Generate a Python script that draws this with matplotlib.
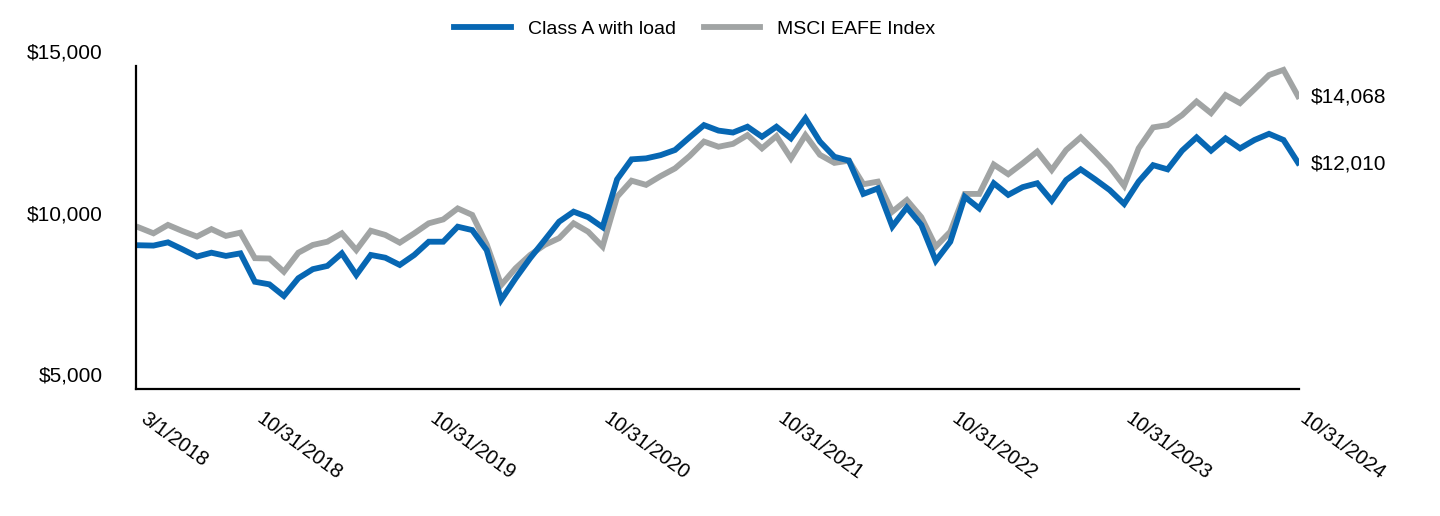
import numpy as np
import matplotlib.pyplot as plt
from matplotlib.transforms import ScaledTranslation

plt.rcParams['font.family'] = ['Liberation Sans', 'DejaVu Sans']

# -----------------------------------------------------------------------------
# Dados (valor de um investimento de $10.000, mensal, 3/1/2018 a 10/31/2024)
# -----------------------------------------------------------------------------
classe_a = [
    9450, 9440, 9540, 9325, 9100, 9220, 9120, 9200, 8320, 8240,
    7880, 8430, 8710, 8810, 9200, 8530, 9150, 9065, 8840, 9150,
    9560, 9560, 10025, 9920, 9300, 7760, 8430, 9050, 9610, 10180,
    10490, 10320, 10010, 11490, 12110, 12140, 12240, 12400, 12790, 13170,
    13000, 12940, 13120, 12810, 13120, 12760, 13380, 12660, 12190, 12070,
    11040, 11210, 10030, 10620, 10080, 8970, 9560, 10950, 10590, 11370,
    11010, 11250, 11370, 10830, 11470, 11800, 11490, 11160, 10730, 11420,
    11930, 11800, 12380, 12790, 12380, 12760, 12450, 12710, 12900, 12710,
    12010,
]
msci_eafe = [
    10000, 9820, 10080, 9890, 9720, 9950, 9740, 9840, 9050, 9040,
    8630, 9220, 9460, 9560, 9820, 9300, 9900, 9770, 9530, 9820,
    10130, 10250, 10590, 10390, 9480, 8220, 8740, 9150, 9460, 9670,
    10130, 9870, 9410, 10950, 11450, 11320, 11590, 11830, 12210, 12660,
    12500, 12590, 12860, 12450, 12830, 12140, 12860, 12250, 12000, 12070,
    11340, 11420, 10490, 10850, 10320, 9410, 9870, 11040, 11040, 11950,
    11650, 11990, 12350, 11780, 12400, 12790, 12350, 11880, 11290, 12450,
    13100, 13170, 13480, 13900, 13540, 14100, 13850, 14280, 14720, 14880,
    14068,
]

rotulos_x = ["3/1/2018", "10/31/2018", "10/31/2019", "10/31/2020",
             "10/31/2021", "10/31/2022", "10/31/2023", "10/31/2024"]
indices_x = [0, 8, 20, 32, 44, 56, 68, 80]

valores_y = [5000, 10000, 15000]
rotulos_y = ["$5,000", "$10,000", "$15,000"]

azul = "#0767b3"
cinza = "#a1a4a4"

# -----------------------------------------------------------------------------
# Figura
# -----------------------------------------------------------------------------
fig = plt.figure(figsize=(14.4, 5.16), dpi=100)
ax = fig.add_axes([136 / 1440, 127 / 516, 1163 / 1440, 323 / 516])

x = np.arange(len(classe_a))
ax.plot(x, msci_eafe, color=cinza, lw=4.2, label="MSCI EAFE Index",
        solid_joinstyle="miter")
ax.plot(x, classe_a, color=azul, lw=4.2, label="Class A with load",
        solid_joinstyle="miter")

ax.set_xlim(-0.207, 80.07)
ax.set_ylim(5000, 15000)

ax.spines["top"].set_visible(False)
ax.spines["right"].set_visible(False)
for lado in ("left", "bottom"):
    ax.spines[lado].set_linewidth(1.6)
    ax.spines[lado].set_color("black")

ax.set_yticks(valores_y)
ax.set_yticklabels(rotulos_y, fontsize=15)
ax.tick_params(axis="y", length=0, pad=24)
desloc = ScaledTranslation(0, 14.5 / 100, fig.dpi_scale_trans)
for rot in ax.get_yticklabels():
    rot.set_transform(rot.get_transform() + desloc)

ax.set_xticks(indices_x)
ax.set_xticklabels(rotulos_x, fontsize=14.5, rotation=-36, ha="left",
                   va="top", rotation_mode="anchor")
ax.tick_params(axis="x", length=0, pad=14)
desloc_x = ScaledTranslation(9 / 100, 0, fig.dpi_scale_trans)
for rot in ax.get_xticklabels():
    rot.set_transform(rot.get_transform() + desloc_x)

# rótulos de valor final
ax.annotate("$14,068", (x[-1], msci_eafe[-1]), xytext=(13, -1),
            textcoords="offset pixels", va="center", ha="left", fontsize=15,
            annotation_clip=False)
ax.annotate("$12,010", (x[-1], classe_a[-1]), xytext=(13, -1),
            textcoords="offset pixels", va="center", ha="left", fontsize=15,
            annotation_clip=False)

# legenda (azul primeiro)
h, l = ax.get_legend_handles_labels()
fig.legend(h[::-1], l[::-1], loc="center", bbox_to_anchor=(695 / 1440, 1 - 29 / 516),
           ncol=2, frameon=False, fontsize=14, handlelength=2.9,
           handletextpad=0.9, columnspacing=1.4)

fig.savefig("out.png", dpi=100)
